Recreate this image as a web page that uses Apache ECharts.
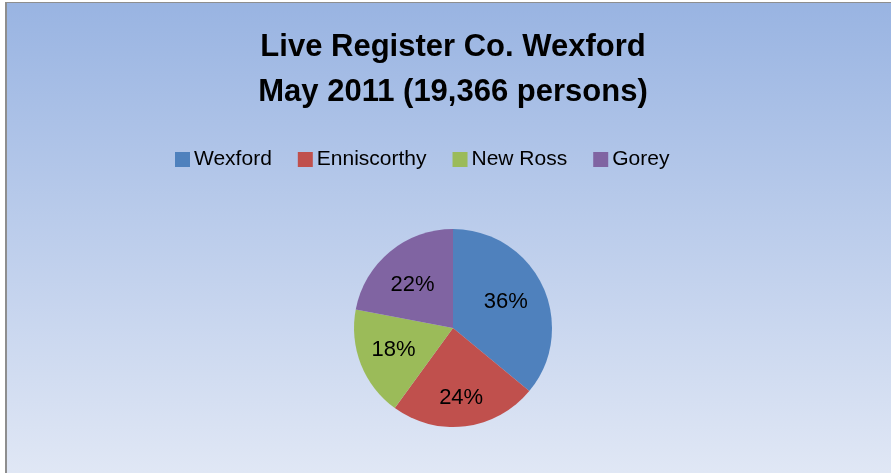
<!DOCTYPE html>
<html>
<head>
<meta charset="utf-8">
<script src="https://cdn.jsdelivr.net/npm/echarts@6/dist/echarts.min.js"></script>
<style>
html,body{margin:0;padding:0;background:#ffffff;width:891px;height:473px;overflow:hidden;}
#wrap{position:absolute;left:5px;top:2px;width:886px;height:471px;border-left:2px solid #8e8e8e;border-top:1px solid #8e8e8e;}
#chart{width:884px;height:470px;}
</style>
</head>
<body>
<div id="wrap"><div id="chart"></div></div>
<script>
const titleLines = ['Live Register Co. Wexford', 'May 2011 (19,366 persons)'];
const categories = ['Wexford', 'Enniscorthy', 'New Ross', 'Gorey'];
const percentValues = [36, 24, 18, 22];
const colors = ['#4F81BD', '#C0504D', '#9BBB59', '#8064A2'];
const labelNudges = [[-6, 2], [0, 5], [1, -2], [1, 7]];

const pieData = categories.map((c, i) => ({ name: c, value: percentValues[i] }));
const labelData = categories.map((c, i) => ({
  name: c, value: percentValues[i],
  label: { offset: labelNudges[i] }
}));
const fontFam = '"Liberation Sans", Arial, sans-serif';

const chart = echarts.init(document.getElementById('chart'));
chart.setOption({
  backgroundColor: {
    type: 'linear', x: 0, y: 0, x2: 0, y2: 1,
    colorStops: [
      { offset: 0, color: '#99B4E2' },
      { offset: 1, color: '#E0E7F5' }
    ]
  },
  color: colors,
  animation: false,
  title: {
    text: titleLines.join('\n'),
    left: 446,
    textAlign: 'center',
    top: 22,
    padding: 0,
    textStyle: {
      fontFamily: fontFam,
      fontWeight: 'bold',
      fontSize: 31,
      lineHeight: 45,
      color: '#000000'
    }
  },
  legend: {
    data: categories,
    left: 168,
    top: 146,
    padding: 0,
    itemWidth: 15,
    itemHeight: 15,
    itemGap: 26,
    icon: 'rect',
    textStyle: {
      fontFamily: fontFam,
      fontSize: 21,
      color: '#000000',
      padding: [0, 0, 0, -1]
    }
  },
  series: [
    {
      type: 'pie',
      center: [446, 325],
      radius: [0, 99],
      startAngle: 90,
      clockwise: true,
      data: pieData,
      label: { show: false },
      labelLine: { show: false },
      itemStyle: { borderWidth: 0 },
      emphasis: { disabled: true }
    },
    {
      type: 'pie',
      center: [446, 325],
      radius: [25, 99],
      startAngle: 90,
      clockwise: true,
      silent: true,
      legendHoverLink: false,
      data: labelData,
      itemStyle: { color: 'rgba(0,0,0,0)', borderWidth: 0 },
      label: {
        show: true,
        position: 'inside',
        formatter: p => p.value + '%',
        fontFamily: fontFam,
        fontSize: 22,
        color: '#000000'
      },
      labelLine: { show: false },
      emphasis: { disabled: true }
    }
  ]
});
</script>
</body>
</html>
